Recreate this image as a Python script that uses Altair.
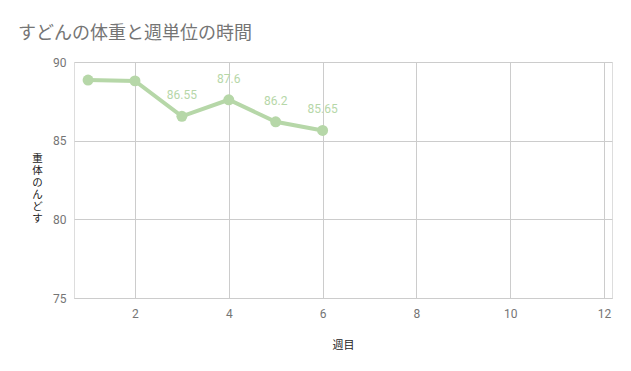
import altair as alt
import pandas as pd

weeks = [1, 2, 3, 4, 5, 6]
weights = [88.85, 88.8, 86.55, 87.6, 86.2, 85.65]
labels = ["", "", "86.55", "87.6", "86.2", "85.65"]

df = pd.DataFrame({"week": weeks, "weight": weights, "label": labels})
lab_df = df[df["label"] != ""]

GREEN = "#b6d7a8"
GRAY = "#757575"
FONT = "Roboto"

x = alt.X("week:Q", scale=alt.Scale(domain=[0.7, 12.17], nice=False, zero=False),
          axis=alt.Axis(values=[2, 4, 6, 8, 10, 12], title="週目", titleFont="Noto Sans CJK JP",
                        titleFontWeight="normal", titleFontSize=11, titleColor="#222",
                        titlePadding=20, labelPadding=10, labelFontSize=12, labelColor=GRAY,
                        labelFont=FONT, ticks=False, domain=True, domainColor="#cccccc",
                        grid=True, gridColor="#cccccc"))
y = alt.Y("weight:Q", scale=alt.Scale(domain=[75, 90], nice=False, zero=False),
          axis=alt.Axis(values=[75, 80, 85, 90], title=["重", "体", "の", "ん", "ど", "す"],
                        titleAngle=0, titleFont="Noto Sans CJK JP", titleFontWeight="normal",
                        titleFontSize=10.5, titleColor="#222", titleLineHeight=12,
                        titleX=-37, titleY=96, titleAlign="center", titleBaseline="middle",
                        labelPadding=8, labelFontSize=12, labelColor=GRAY, labelFont=FONT,
                        ticks=False, domain=False, grid=True, gridColor="#cccccc"))

base = alt.Chart(df)
line = base.mark_line(color=GREEN, strokeWidth=4).encode(x=x, y=y)
pts = base.mark_circle(color=GREEN, size=120, opacity=1).encode(x=x, y=y)
text = alt.Chart(lab_df).mark_text(color=GREEN, dy=-21, fontSize=12, font=FONT).encode(
    x=x, y=y, text="label:N")

chart = alt.layer(line, pts, text).properties(
    width=538, height=236,
    title=alt.TitleParams("すどんの体重と週単位の時間", anchor="start", frame="group",
                          dx=-56, fontSize=18, font="Noto Sans CJK JP", fontWeight="normal",
                          color=GRAY, offset=13),
    autosize=alt.AutoSizeParams(type="none"),
    padding={"left": 66, "top": 54, "right": 11, "bottom": 65},
).configure_view(stroke=None).configure(background="white")

chart.save("out.html", embed_options={"renderer": "svg", "actions": False})
